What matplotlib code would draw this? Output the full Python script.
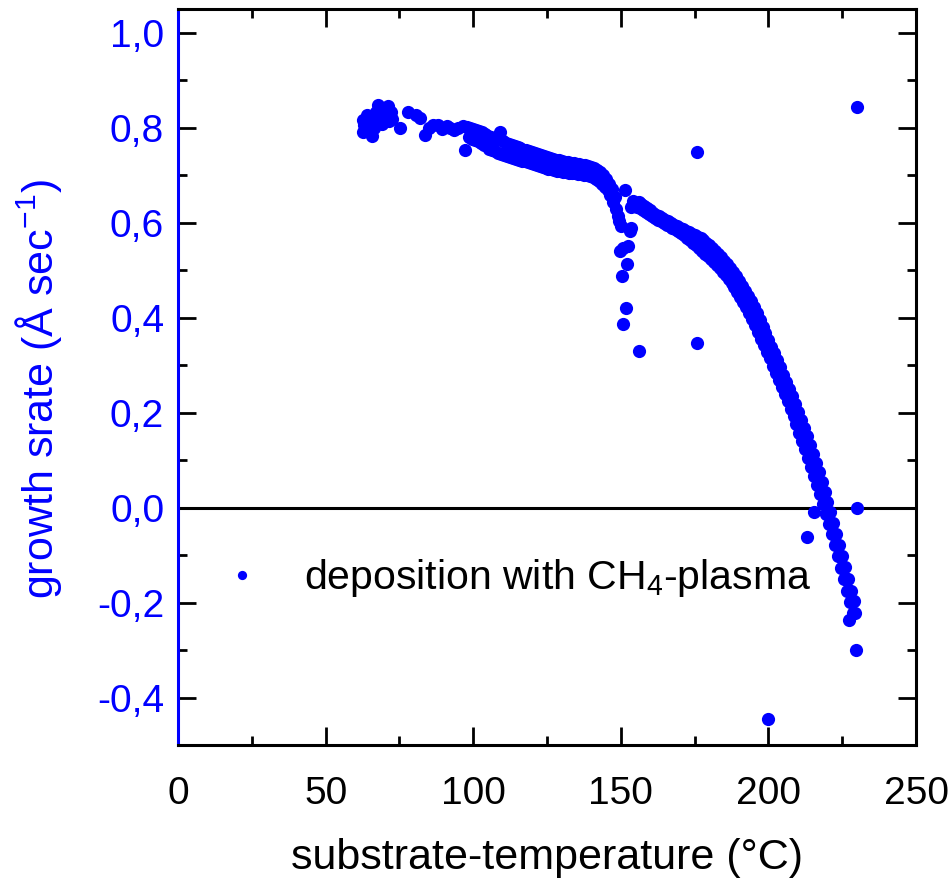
import matplotlib
matplotlib.use("Agg")
import matplotlib.pyplot as plt
from matplotlib.ticker import MultipleLocator, FuncFormatter

plt.rcParams['font.family'] = ['Liberation Sans', 'DejaVu Sans']
plt.rcParams['mathtext.default'] = 'regular'

# cluster at the start of the run
x_start = [62.5, 62.7, 63.0, 63.3, 64.0, 64.5, 65.0, 65.6, 66.0, 66.5, 67.0, 67.8, 68.0, 68.5,
           69.0, 69.5, 70.0, 70.5, 71.1, 71.5, 72.0, 72.5, 75.2, 77.9, 80.5, 82.0, 83.7, 85.0,
           86.5, 88.0, 89.5, 91.0, 92.0, 93.5, 95.0, 96.5, 97.2]
y_start = [0.790, 0.817, 0.805, 0.792, 0.826, 0.800, 0.812, 0.782, 0.822, 0.800, 0.832, 0.847, 0.815, 0.826,
           0.808, 0.821, 0.820, 0.840, 0.845, 0.815, 0.832, 0.818, 0.800, 0.834, 0.826, 0.821, 0.785, 0.800,
           0.805, 0.806, 0.797, 0.803, 0.800, 0.796, 0.800, 0.803, 0.754]

# slowly falling part 98..148
x_flat = [98, 98.5, 99, 99.5, 100, 100.5, 101, 101.5, 102, 102.5, 103, 103.5, 104, 104.5, 105, 105.5,
          106, 106.5, 107, 107.5, 108, 108.5, 109, 109.5, 110, 110.5, 111, 111.5, 112, 112.5, 113, 113.5,
          114, 114.5, 115, 115.5, 116, 116.5, 117, 117.5, 118, 118.5, 119, 119.5, 120, 120.5, 121, 121.5,
          122, 122.5, 123, 123.5, 124, 124.5, 125, 125.5, 126, 126.5, 127, 127.5, 128, 128.5, 129, 129.5,
          130, 130.5, 131, 131.5, 132, 132.5, 133, 133.5, 134, 134.5, 135, 135.5, 136, 136.5, 137, 137.5,
          138, 138.5, 139, 139.5, 140, 140.5, 141, 141.5, 142, 142.5, 143, 143.5, 144, 144.5, 145, 145.5,
          146, 146.5, 147, 147.5, 148, 148.5]
y_flat = [0.802, 0.780, 0.799, 0.777, 0.797, 0.775, 0.795, 0.771, 0.793, 0.768, 0.790, 0.764, 0.787, 0.761, 0.783, 0.756,
          0.780, 0.754, 0.778, 0.750, 0.776, 0.747, 0.790, 0.744, 0.771, 0.743, 0.768, 0.740, 0.766, 0.738, 0.763, 0.736,
          0.762, 0.734, 0.759, 0.732, 0.757, 0.730, 0.754, 0.729, 0.752, 0.727, 0.750, 0.725, 0.748, 0.723, 0.746, 0.721,
          0.744, 0.719, 0.742, 0.717, 0.740, 0.715, 0.738, 0.714, 0.736, 0.712, 0.734, 0.710, 0.733, 0.709, 0.731, 0.708,
          0.729, 0.707, 0.728, 0.706, 0.727, 0.705, 0.726, 0.704, 0.725, 0.704, 0.724, 0.703, 0.723, 0.702, 0.722, 0.701,
          0.721, 0.700, 0.720, 0.698, 0.718, 0.696, 0.715, 0.692, 0.711, 0.688, 0.706, 0.682, 0.700, 0.676, 0.692, 0.668,
          0.682, 0.658, 0.670, 0.644, 0.654, 0.628]

# dip around 150 degC
x_dip = [149.0, 149.5, 149.7, 150.0, 150.3, 150.8, 151.4, 152.0, 152.5, 153.1, 153.6, 151.8, 150.6, 156.2]
y_dip = [0.615, 0.603, 0.540, 0.592, 0.488, 0.547, 0.669, 0.512, 0.551, 0.582, 0.589, 0.420, 0.387, 0.329]

# second branch down through zero
x_drop = [153.6, 154.2, 155, 155.5, 156, 156.5, 157, 157.5, 158, 158.5, 159, 159.5, 160, 160.5, 161, 161.5,
          162, 162.5, 163, 163.5, 164, 164.5, 165, 165.5, 166, 166.5, 167, 167.5, 168, 168.5, 169, 169.5,
          170, 170.5, 171, 171.5, 172, 172.5, 173, 173.5, 174, 174.5, 175, 175.5, 176, 176.5, 177, 177.5,
          178, 178.5, 179, 179.5, 180, 180.5, 181, 181.5, 182, 182.5, 183, 183.5, 184, 184.5, 185, 185.5,
          186, 186.5, 187, 187.5, 188, 188.5, 189, 189.5, 190, 190.5, 191, 191.5, 192, 192.5, 193, 193.5,
          194, 194.5, 195, 195.5, 196, 196.5, 197, 197.5, 198, 198.5, 199, 199.5, 200, 200.5, 201, 201.5,
          202, 202.5, 203, 203.5, 204, 204.5, 205, 205.5, 206, 206.5, 207, 207.5, 208, 208.5, 209, 209.5,
          210, 210.5, 211, 211.5, 212, 212.5, 213, 213.5, 214, 214.5, 215, 215.5, 216, 216.5, 217, 217.5,
          218, 218.5, 219, 219.5, 220, 220.5, 221, 221.5, 222, 222.5, 223, 223.5, 224, 224.5, 225, 225.5,
          226, 226.5, 227, 227.5, 228, 228.5, 229, 227.3, 229.2]
y_drop = [0.634, 0.645, 0.640, 0.632, 0.644, 0.630, 0.640, 0.626, 0.635, 0.622, 0.630, 0.618, 0.626, 0.614, 0.621, 0.610,
          0.617, 0.606, 0.613, 0.603, 0.609, 0.599, 0.606, 0.596, 0.603, 0.593, 0.600, 0.589, 0.596, 0.586, 0.592, 0.582,
          0.589, 0.578, 0.586, 0.573, 0.583, 0.568, 0.580, 0.563, 0.577, 0.557, 0.574, 0.552, 0.570, 0.546, 0.567, 0.540,
          0.563, 0.535, 0.557, 0.529, 0.552, 0.523, 0.546, 0.517, 0.540, 0.510, 0.534, 0.504, 0.527, 0.497, 0.520, 0.490,
          0.513, 0.482, 0.505, 0.473, 0.496, 0.464, 0.487, 0.454, 0.478, 0.444, 0.467, 0.433, 0.457, 0.422, 0.446, 0.410,
          0.435, 0.398, 0.422, 0.384, 0.409, 0.370, 0.395, 0.356, 0.381, 0.342, 0.367, 0.328, 0.353, 0.314, 0.339, 0.299,
          0.325, 0.284, 0.310, 0.269, 0.295, 0.254, 0.280, 0.239, 0.265, 0.224, 0.249, 0.208, 0.234, 0.192, 0.218, 0.175,
          0.202, 0.158, 0.185, 0.141, 0.168, 0.123, 0.150, 0.105, 0.132, 0.086, 0.113, 0.067, 0.094, 0.048, 0.074, 0.028,
          0.054, 0.008, 0.033, -0.013, 0.012, -0.034, -0.009, -0.056, -0.032, -0.079, -0.055, -0.103, -0.078, -0.127, -0.102, -0.151,
          -0.126, -0.175, -0.150, -0.199, -0.175, -0.222, -0.197, -0.236, -0.222]

# stray points
x_out = [175.7, 175.8, 230.0, 230.0, 229.7, 199.9, 212.9, 215.6]
y_out = [0.347, 0.749, 0.844, 0.000, -0.299, -0.446, -0.063, -0.010]

temp = x_start + x_flat + x_dip + x_drop + x_out
rate = y_start + y_flat + y_dip + y_drop + y_out

blue = '#0000ff'

fig = plt.figure(figsize=(9.53, 8.8), dpi=100)
ax = fig.add_axes([0.1868, 0.1534, 0.7744, 0.8364])

ax.axhline(0, color='black', lw=2.2, zorder=1)
ax.plot(temp, rate, 'o', color=blue, ms=9.5, mew=0, ls='none', zorder=3,
        label='deposition with CH$_4$-plasma')

ax.set_xlim(0, 250)
ax.set_ylim(-0.5, 1.05)
ax.xaxis.set_major_locator(MultipleLocator(50))
ax.xaxis.set_minor_locator(MultipleLocator(25))
ax.yaxis.set_major_locator(MultipleLocator(0.2))
ax.yaxis.set_minor_locator(MultipleLocator(0.1))
ax.yaxis.set_major_formatter(FuncFormatter(lambda v, p: ('%.1f' % v).replace('.', ',').replace('-0,0', '0,0')))

ax.tick_params(which='both', direction='in', top=True, right=True, width=2, labelsize=28)
ax.tick_params(which='major', length=13)
ax.tick_params(which='minor', length=6.5)
ax.tick_params(axis='x', pad=22)
ax.tick_params(axis='y', which='both', labelcolor=blue, pad=10)
for s in ax.spines.values():
    s.set_linewidth(2.2)
ax.spines['left'].set_color(blue)

# left ticks blue, right ticks black
for tk in ax.yaxis.get_major_ticks() + ax.yaxis.get_minor_ticks():
    tk.tick1line.set_color(blue)
    tk.tick2line.set_color('black')

ax.set_xlabel('substrate-temperature (°C)', fontsize=31, labelpad=19)
ax.set_ylabel('growth srate (Å sec$^{-1}$)', fontsize=31, color=blue)
ax.yaxis.set_label_coords(-0.155, 0.483)

ax.legend(loc='center left', bbox_to_anchor=(0.065, 0.227), frameon=False, fontsize=29.5,
          handlelength=0.8, handletextpad=1.1, borderpad=0, borderaxespad=0, markerscale=0.7)

fig.savefig('out.png', dpi=100)
